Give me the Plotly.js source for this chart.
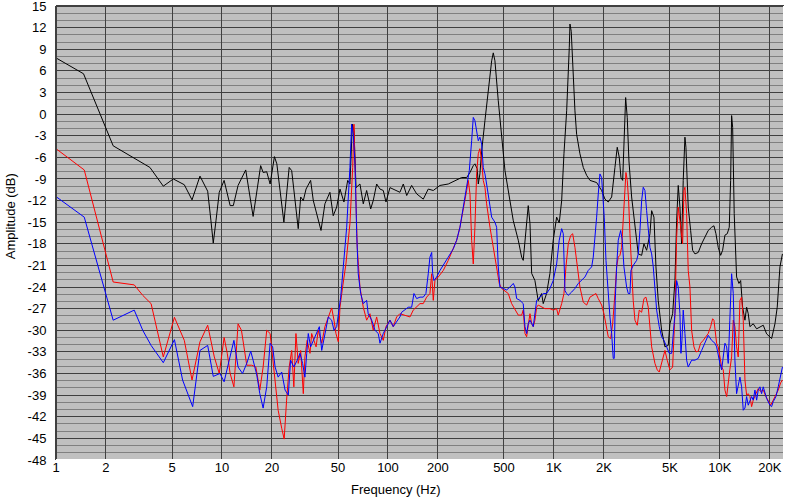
<!DOCTYPE html>
<html><head><meta charset="utf-8">
<script src="https://cdn.plot.ly/plotly-3.0.1.min.js"></script>
<style>html,body{margin:0;padding:0;background:#fff;}#chart{width:796px;height:499px;}</style>
</head><body><div id="chart"></div>
<script>
// ---- Data (frequency in Hz, amplitude in dB) ----
const blackFreq = [1,1.465,2.21,3.68,4.43,5.09,5.93,6.6,7.37,8.2,
8.58,8.86,9.2,9.63,10.3,11.2,11.7,12.5,13.9,15.4,
17.1,17.7,18.6,19.5,20.7,21.4,23.6,25.4,26.3,28.8,
29.8,30.9,32.1,34.2,35.5,39.5,41.7,44.7,46.8,49.1,
51.4,54.3,57.2,59.0,61.0,62.4,64.2,67.8,71.0,74.4,
78.7,81.5,85.5,89.5,93.7,97.3,102.8,107.6,118,123.7,
129.7,138.9,148.9,163.2,174.9,187.5,205.7,230.8,259.4,278,
298,312,326.6,334,345,350,358,367,384,402,
421.5,431,441,462,484,507,543,569,609.6,639,
653,669,700,717,734,768,804,843,862,903,
946,990,1038,1076,1113,1149,1193,1237,1249,1271,
1307,1338,1370,1434,1502,1574,1648,1808,1938,2029,
2124,2227,2331,2406,2474,2533,2594,2641,2704,2765,
2830,2938,3076,3220,3376,3485,3618,3787,3878,4004,
4117,4250,4455,4664,4883,4996,5188,5357,5485,5608,
5741,5879,6010,6154,6240,6442,6660,6847,7070,7402,
7758,8121,8502,8913,9203,9461,9768,10100,10380,10720,
11070,11380,11600,11760,11930,12190,12600,13020,13330,13700,
14150,14480,14810,15160,15870,16640,17420,18240,19110,20010,
20480,21450,22140,22990,23800];
const blackAmp = [7.8,5.6,-4.4,-7.4,-10.0,-9.0,-9.8,-11.9,-8.6,-10.7,
-14.8,-17.9,-14.8,-10.85,-9.2,-12.7,-12.7,-9.9,-7.75,-14.2,
-7.15,-8.1,-8.0,-9.7,-5.9,-6.9,-15.0,-7.4,-7.85,-15.9,
-11.5,-12.0,-10.4,-9.2,-12.0,-16.15,-12.45,-10.85,-14.1,-12.9,
-10.4,-12.2,-9.2,-9.7,-1.4,-2.3,-10.2,-9.7,-12.45,-10.6,
-13.15,-12.0,-9.7,-10.4,-10.6,-12.2,-10.2,-10.4,-10.85,-9.7,
-11.3,-9.9,-11.07,-11.8,-10.4,-10.6,-9.9,-9.7,-9.2,-8.8,
-8.8,-8.1,-7.15,-6.9,-7.6,-9.7,-8.3,-5.1,-0.9,3.23,
7.4,8.5,7.4,1.85,-2.8,-7.85,-12.0,-14.8,-17.5,-19.85,
-20.3,-17.5,-12.7,-15.2,-22.1,-23.1,-25.9,-24.9,-26.3,-24.9,
-22.1,-17.5,-14.3,-15.1,-12.0,-5.5,0.46,9.2,12.5,11.5,
4.2,0.46,-2.8,-5.5,-7.4,-8.5,-9.2,-9.5,-10.6,-11.8,
-12.2,-11.5,-7.4,-4.6,-6.0,-8.8,-9.2,-4.15,2.3,-0.5,
-6.5,-11.5,-15.7,-19.4,-19.6,-18.0,-18.9,-16.6,-13.4,-14.3,
-21.2,-25.9,-30.0,-32.3,-32.1,-29.1,-27.7,-23.1,-14.8,-9.9,
-12.9,-18.0,-9.2,-3.2,-4.6,-12.9,-16.15,-18.9,-19.4,-19.2,
-18.0,-17.1,-16.15,-15.7,-15.5,-16.6,-18.5,-19.6,-18.9,-16.8,
-16.6,-15.7,-9.2,-0.2,-1.85,-13.8,-22.6,-23.5,-23.1,-26.8,
-28.6,-26.8,-27.7,-29.5,-29.1,-29.8,-29.5,-29.3,-30.5,-30.9,
-31.15,-29.1,-26.8,-21.2,-19.4];

const redFreq = [1,1.48,2.21,2.96,3.33,3.74,4.43,5.17,5.93,6.6,
7.37,8.2,8.99,9.63,10.3,10.76,11.2,11.8,12.5,13.1,
14.1,15.1,16.0,16.9,17.7,18.6,19.5,20.2,20.9,21.8,
22.9,23.7,24.5,25.4,26.3,27.1,27.9,28.8,29.8,30.9,
31.6,32.6,33.9,34.7,35.8,36.9,38.0,39.9,41.7,43.7,
45.8,47.3,48.6,50.2,51.4,53.3,55.8,59.0,61.3,62.4,
63.9,65.3,67.8,71.0,74.4,77.9,81.5,85.5,89.5,93.7,
97.3,102.8,107.6,112.8,118,126.6,135.7,142,148.9,155.9,
163.2,171,179,183.4,187.5,191.9,201,215.4,230.8,247.4,
259.4,271.5,284.2,298,304.6,312,319.3,326.6,334,342.2,
350,358,367,375,384,393,411.7,431,451.6,468.2,
484,507,530.5,556.1,582.3,609.6,639,653,669,684.6,
700,717,734,750.4,768,786.6,804,843,882.7,946,
990,1038,1061,1113,1149,1181,1220,1261,1297,1338,
1382,1434,1502,1574,1648,1725,1791,1849,1938,2001,
2058,2124,2196,2258,2331,2386,2440,2498,2558,2615,
2678,2715,2765,2818,2870,2938,3003,3076,3176,3265,
3376,3485,3583,3700,3787,3878,4059,4192,4309,4455,
4555,4664,4814,4996,5188,5357,5485,5608,5741,5879,
5961,6069,6154,6301,6442,6597,6753,6973,7168,7402,
7650,7931,8233,8502,8790,9036,9203,9331,9553,9768,
10000,10240,10470,10720,10980,11220,11470,11760,12030,12310,
12600,12890,13200,13510,13820,14150,14480,14810,15160,15520,
15870,16480,17010,17590,18240,18930,19540,20210,20950,21750,
22450,23210,23800];
const redAmp = [-4.8,-7.75,-23.3,-23.7,-25.15,-26.3,-33.7,-28.2,-31.4,-36.9,
-31.6,-29.3,-33.7,-36.0,-31.0,-33.2,-36.0,-37.85,-29.1,-30.0,
-34.85,-34.85,-35.1,-38.3,-35.1,-30.0,-30.45,-34.15,-37.6,-41.1,
-43.6,-45.1,-39.7,-35.1,-32.8,-37.85,-30.45,-34.6,-32.8,-38.8,
-33.7,-31.4,-33.2,-30.45,-31.4,-32.3,-30.0,-31.8,-29.5,-28.2,
-26.9,-28.6,-30.45,-31.6,-26.8,-24.0,-20.8,-15.2,-7.4,-1.4,
-10.15,-18.5,-24.0,-26.8,-28.6,-27.7,-30.0,-28.15,-30.45,-31.4,
-29.5,-28.6,-29.5,-28.15,-27.7,-27.9,-28.15,-27.2,-26.8,-26.3,
-26.3,-25.4,-24.9,-22.15,-25.85,-23.1,-22.6,-21.7,-20.3,-18.7,
-17.5,-15.7,-13.4,-10.6,-9.2,-11.1,-17.5,-20.8,-15.7,-8.3,
-5.5,-4.8,-6.5,-9.2,-10.15,-12.45,-15.7,-18.5,-21.7,-23.5,
-24.2,-24.5,-24.9,-26.3,-27.2,-27.9,-27.9,-27.2,-30.45,-30.9,
-29.3,-27.7,-29.1,-29.5,-28.6,-26.8,-26.5,-26.8,-27.0,-27.0,
-27.2,-27.0,-27.9,-26.3,-24.9,-21.2,-18.0,-16.85,-16.6,-18.5,
-21.2,-24.0,-26.1,-26.5,-25.4,-25.15,-24.9,-25.6,-26.5,-27.7,
-29.5,-30.9,-31.15,-29.1,-24.9,-21.2,-19.85,-19.6,-18.5,-14.3,
-10.15,-8.1,-9.2,-12.0,-16.6,-22.15,-25.85,-28.6,-29.3,-27.2,
-27.5,-25.6,-25.4,-26.8,-29.5,-32.3,-34.6,-35.5,-35.8,-34.6,
-33.7,-32.8,-34.15,-35.5,-35.1,-27.7,-17.1,-12.9,-14.8,-16.4,
-18.0,-10.6,-10.15,-13.8,-21.7,-24.0,-30.0,-32.3,-33.0,-32.9,
-31.8,-31.4,-30.9,-30.45,-29.5,-28.4,-28.6,-30.0,-31.8,-32.3,
-33.7,-35.1,-35.5,-38.3,-39.2,-36.9,-35.5,-33.7,-28.6,-29.5,
-32.3,-33.7,-25.85,-25.4,-28.6,-36.9,-39.0,-38.8,-39.2,-40.6,
-39.7,-38.8,-38.1,-38.5,-38.3,-39.2,-39.9,-40.4,-39.7,-39.0,
-38.3,-37.3,-36.9];

const blueFreq = [1,1.48,2.21,2.96,3.33,3.74,4.43,5.17,5.79,6.66,
7.37,8.2,8.86,9.72,10.3,10.9,11.8,12.5,13.3,14.1,
14.9,15.4,16.2,16.9,17.7,18.6,19.5,20.2,20.9,21.8,
22.9,24.0,25.1,25.9,27.1,28.4,29.5,30.6,31.6,32.4,
33.1,34.2,35.5,37.2,38.6,39.9,41.7,43.7,45.8,47.3,
49.1,50.2,51.9,53.8,56.4,59.0,60.4,61.8,63.3,64.8,
66.2,68.5,71.0,74.4,76.0,79.8,83.5,87.4,89.5,93.7,
98.2,102.8,107.6,112.8,118,120.9,126.6,132.5,138.9,143.4,
148.9,155.9,163.2,169.3,174.9,179,183.4,185.9,189.3,196.6,
205.7,215.4,230.8,247.4,259.4,271.5,284.2,298,309,319.3,
326.6,334,342.2,350,358,367,375,384,393,402,
421.5,441,451.6,462,472.7,495,519,543,569,582,
596,624,653,669,684.6,700,717,750.4,786.6,823.6,
862,903,946,990,1038,1076,1113,1138,1165,1193,
1220,1278,1338,1401,1468,1538,1609,1687,1725,1766,
1808,1849,1893,1938,1965,2009,2058,2106,2175,2227,
2276,2308,2340,2386,2440,2523,2579,2641,2740,2803,
2870,2910,3003,3149,3220,3297,3376,3451,3533,3618,
3700,3787,3878,3965,4157,4309,4455,4600,4775,4951,
5117,5357,5485,5608,5741,5823,5904,6010,6154,6301,
6442,6597,6753,7070,7402,7758,8121,8502,8913,9331,
9553,9768,10000,10240,10470,10720,10980,11220,11470,11760,
12030,12310,12600,12890,13200,13510,13820,14150,14480,14810,
15160,15520,15870,16250,16640,17010,17420,17820,18240,18670,
19110,20010,20480,20950,21750,22450,22990,23800];
const blueAmp = [-11.45,-14.3,-28.6,-27.2,-30.0,-32.1,-34.5,-31.3,-36.9,-40.6,
-32.8,-32.1,-36.4,-36.0,-37.15,-34.6,-31.4,-35.1,-36.0,-34.6,
-32.9,-34.15,-36.2,-38.8,-40.8,-37.85,-31.8,-32.3,-35.1,-36.5,
-35.8,-38.3,-39.0,-34.15,-35.1,-34.15,-33.2,-34.6,-36.5,-33.2,
-30.45,-32.3,-31.4,-30.45,-29.5,-32.8,-30.45,-28.15,-28.6,-30.0,
-29.5,-27.7,-25.4,-21.2,-15.7,-7.4,-1.4,-2.75,-6.9,-16.6,
-22.15,-24.9,-26.3,-25.85,-27.7,-28.6,-30.0,-30.45,-31.8,-30.45,
-29.5,-28.6,-29.5,-28.85,-28.15,-27.5,-27.2,-26.8,-26.8,-24.9,
-25.6,-25.4,-25.4,-24.9,-22.15,-19.85,-19.2,-22.15,-23.1,-22.6,
-21.7,-21.0,-19.85,-18.7,-17.5,-15.7,-12.9,-10.15,-7.85,-3.7,
-0.46,-0.9,-2.75,-3.7,-3.2,-4.15,-7.4,-8.3,-9.7,-11.1,
-14.3,-15.0,-15.7,-21.2,-24.0,-24.2,-24.4,-24.0,-23.5,-24.0,
-25.6,-25.85,-26.3,-29.5,-30.45,-29.1,-28.6,-29.5,-25.85,-25.4,
-24.9,-24.9,-24.2,-23.1,-20.8,-17.5,-15.9,-16.6,-24.5,-24.9,
-25.15,-24.7,-24.2,-23.5,-23.1,-22.6,-21.7,-21.2,-19.85,-17.5,
-14.3,-11.1,-8.3,-8.8,-10.6,-14.3,-20.3,-24.0,-28.15,-30.45,
-33.9,-33.9,-25.85,-21.2,-17.5,-16.15,-17.5,-21.2,-24.0,-24.9,
-24.9,-21.7,-21.0,-20.3,-19.4,-16.15,-12.0,-10.15,-10.6,-13.4,
-16.15,-18.5,-19.4,-21.2,-27.2,-29.5,-30.9,-31.4,-32.3,-33.2,
-33.2,-27.7,-23.1,-24.0,-27.7,-33.2,-31.4,-27.2,-30.45,-34.15,
-35.1,-34.6,-34.15,-34.15,-33.9,-32.8,-31.8,-30.7,-31.4,-31.8,
-32.3,-33.7,-34.6,-35.5,-33.2,-31.8,-32.3,-34.6,-28.6,-22.15,
-24.9,-34.15,-38.8,-37.85,-36.5,-37.85,-41.1,-40.8,-39.2,-40.4,
-39.7,-39.2,-39.7,-38.3,-39.7,-38.3,-37.85,-38.8,-37.85,-38.55,
-39.45,-40.4,-40.6,-39.9,-39.2,-37.85,-36.5,-35.1];

// ---- Axis ticks ----
const xTickVals = [1,2,5,10,20,50,100,200,500,1000,2000,5000,10000,20000];
const xTickText = ['1','2','5','10','20','50','100','200','500','1K','2K','5K','10K','20K'];
const yTickVals = [-48,-45,-42,-39,-36,-33,-30,-27,-24,-21,-18,-15,-12,-9,-6,-3,0,3,6,9,12,15];
const yTickText = yTickVals.map(v => String(v));

const font = {family: 'Liberation Sans, Arial, sans-serif', size: 13, color: '#000'};

const traces = [
  {x: blackFreq, y: blackAmp, type: 'scatter', mode: 'lines', line: {color: '#000000', width: 1}, hoverinfo: 'skip'},
  {x: redFreq, y: redAmp, type: 'scatter', mode: 'lines', line: {color: '#ff0000', width: 1}, hoverinfo: 'skip'},
  {x: blueFreq, y: blueAmp, type: 'scatter', mode: 'lines', line: {color: '#0000ff', width: 1}, hoverinfo: 'skip'}
];

const layout = {
  width: 796, height: 499,
  margin: {l: 56, r: 12, t: 6, b: 39, pad: 0},
  paper_bgcolor: '#ffffff',
  plot_bgcolor: '#c0c0c0',
  showlegend: false,
  font: font,
  xaxis: {
    type: 'log', range: [0, 4.386],
    tickmode: 'array', tickvals: xTickVals, ticktext: xTickText,
    showgrid: true, gridcolor: '#404040', gridwidth: 1,
    zeroline: false, showline: false,
    ticks: '', ticklabelstandoff: -2, ticklabeloverflow: 'allow',
    tickfont: font
  },
  yaxis: {
    range: [-48.004, 15.004],
    tickmode: 'array', tickvals: yTickVals, ticktext: yTickText,
    showgrid: true, gridcolor: '#404040', gridwidth: 1,
    minor: {tickmode: 'linear', tick0: 0, dtick: 1, showgrid: true, gridcolor: '#808080', gridwidth: 1, ticks: ''},
    zeroline: false, showline: false,
    ticks: 'outside', ticklen: 6, tickcolor: 'rgba(0,0,0,0)',
    ticklabeloverflow: 'allow',
    tickfont: font
  },
  shapes: [
    {type: 'line', xref: 'paper', yref: 'paper', x0: 0, x1: 1, y0: 1, y1: 1, line: {color: '#404040', width: 2}},
    {type: 'line', xref: 'paper', yref: 'paper', x0: 0, x1: 0, y0: 0, y1: 1, line: {color: '#404040', width: 2}},
    {type: 'line', xref: 'paper', yref: 'paper', x0: 0, x1: 1, y0: 0, y1: 0, line: {color: '#ffffff', width: 2}},
    {type: 'line', xref: 'paper', yref: 'paper', x0: 1, x1: 1, y0: 0, y1: 1, line: {color: '#ffffff', width: 2}}
  ],
  annotations: [
    {text: 'Frequency (Hz)', xref: 'paper', yref: 'paper', x: 0.467, y: -0.0639, xanchor: 'center', yanchor: 'middle', showarrow: false, font: font},
    {text: 'Amplitude (dB)', xref: 'paper', yref: 'paper', x: -0.0632, y: 0.537, xanchor: 'center', yanchor: 'middle', textangle: -90, showarrow: false, font: font}
  ]
};

Plotly.newPlot('chart', traces, layout, {displayModeBar: false, staticPlot: true});
</script>
</body></html>
